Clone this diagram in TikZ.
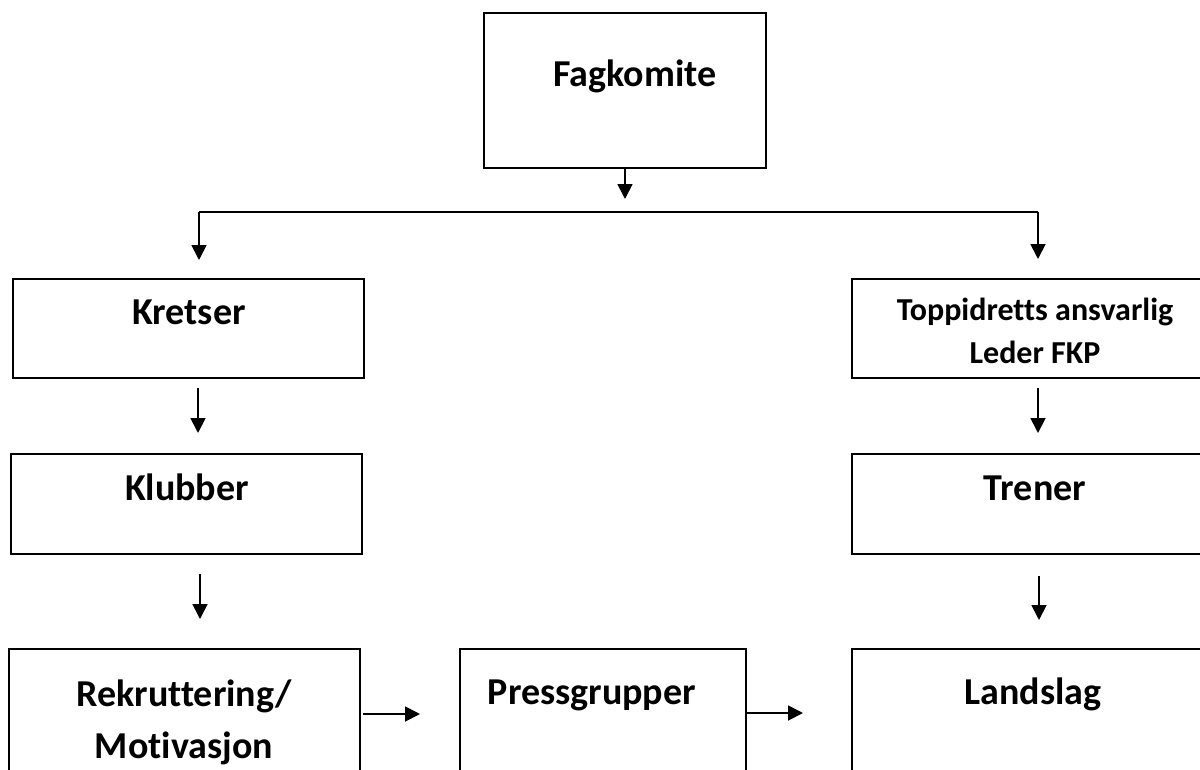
\documentclass[tikz,border=0pt]{standalone}
\usepackage{fontspec}
\setmainfont{Carlito}[Ligatures={NoCommon}]
\usetikzlibrary{arrows.meta}
\begin{document}
\begin{tikzpicture}[x=1pt,y=-1pt,
  box/.style={draw=black,line width=1.6pt,rectangle,inner sep=0pt,outer sep=0pt,anchor=north west},
  lbl/.style={font=\fontsize{38}{45}\selectfont\bfseries,anchor=base,inner sep=0pt},
  slbl/.style={font=\fontsize{32}{38}\selectfont\bfseries,anchor=base,inner sep=0pt},
  conn/.style={line width=1.8pt},
  arr/.style={line width=1.8pt,-{Triangle[length=15pt,width=15pt]}},
]
\useasboundingbox (0,0) rectangle (1200,769);
\clip (0,0) rectangle (1200,769);
\fill[white] (0,0) rectangle (1200,769);

% boxes
\node[box,minimum width=282pt,minimum height=155pt] (fag) at (484,13) {};
\node[box,minimum width=351pt,minimum height=99pt] (kre) at (13,279) {};
\node[box,minimum width=351pt,minimum height=100pt] (klu) at (11,454) {};
\node[box,minimum width=351pt,minimum height=140pt] (rek) at (9,649) {};
\node[box,minimum width=286pt,minimum height=140pt] (pre) at (460,649) {};
\node[box,minimum width=366pt,minimum height=140pt] (lan) at (852,649) {};
\node[box,minimum width=366pt,minimum height=99pt] (top) at (852,279) {};
\node[box,minimum width=366pt,minimum height=100pt] (tre) at (852,454) {};

% texts
\node[lbl] (tfag) at (635,86) {Fagkomite};
\node[lbl] (tkre) at (189,324) {Kretser};
\node[lbl] (tklu) at (187,500) {Klubber};
\node[lbl] (trek1) at (184,706) {Rekruttering/};
\node[lbl] (trek2) at (184,758) {Motivasjon};
\node[lbl] (tpre) at (592,704) {Pressgrupper};
\node[lbl] (tlan) at (1033,704) {Landslag};
\node[slbl] (ttop1) at (1035,320) {Toppidretts ansvarlig};
\node[slbl] (ttop2) at (1035,363) {Leder FKP};
\node[lbl] (ttre) at (1035,500) {Trener};

% helper coordinates
\coordinate (fagtip) at (625,199);
\coordinate (bL) at (199,212);
\coordinate (bR) at (1038,212);
\coordinate (xL1) at (198,0);
\coordinate (xL2) at (200,0);
\coordinate (xR1) at (1038,0);
\coordinate (xR2) at (1039,0);
\coordinate (yA) at (0,714);
\coordinate (yB) at (0,713);

% connectors
\draw[arr] (fag.south) -- (fagtip);
\draw[conn] (bL) -- (bR);
\draw[arr,shorten >=19pt] (bL) -- (kre.north -| bL);
\draw[arr,shorten >=20pt] (bR) -- (top.north -| bR);
\draw[arr,shorten <=10pt,shorten >=21pt] (kre.south -| xL1) -- (klu.north -| xL1);
\draw[arr,shorten <=20pt,shorten >=30pt] (klu.south -| xL2) -- (rek.north -| xL2);
\draw[arr,shorten <=10pt,shorten >=21pt] (top.south -| xR1) -- (tre.north -| xR1);
\draw[arr,shorten <=22pt,shorten >=29pt] (tre.south -| xR2) -- (lan.north -| xR2);
\draw[arr,shorten <=3pt,shorten >=40pt] (rek.east |- yA) -- (pre.west |- yA);
\draw[arr,shorten <=1pt,shorten >=49pt] (pre.east |- yB) -- (lan.west |- yB);
\end{tikzpicture}
\end{document}
